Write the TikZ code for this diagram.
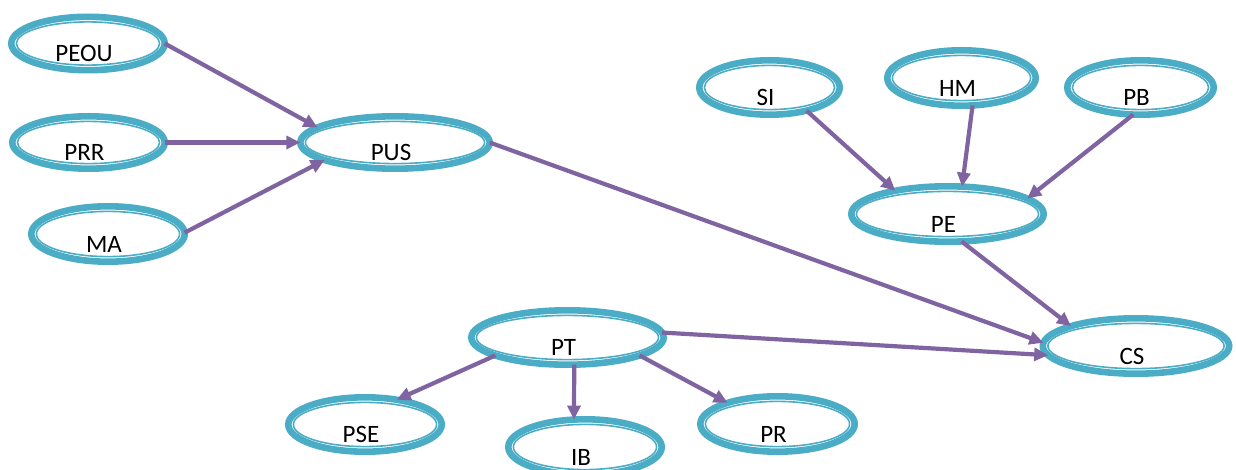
\documentclass[tikz,border=0pt]{standalone}
\usepackage{fontspec}
\setmainfont{Carlito}
\usetikzlibrary{shapes.geometric,arrows.meta}
\definecolor{ringc}{HTML}{4BACC6}
\definecolor{arrc}{HTML}{8064A2}
\tikzset{
  ring/.style={ellipse, draw=ringc, line width=6.6pt, inner sep=0pt, outer sep=0pt},
  ringin/.style={draw=ringc, line width=1.6pt},
  lbl/.style={font=\fontsize{25}{30}\selectfont, inner sep=0pt, text=black},
  conn/.style={draw=arrc, line width=4.2pt, -{Triangle[length=14pt,width=13pt]}}
}
% name, x, y, outer width, outer height, text
\newcommand\ringnode[6]{%
  \node[ring, minimum width=#4pt-6.6pt, minimum height=#5pt-6.6pt] (#1) at (#2,#3) {};
  \draw[ringin] (#1.center) ellipse [x radius=#4pt/2-8.4pt, y radius=#5pt/2-8.4pt];
  \node[lbl] (#1-t) at ([xshift=-4pt,yshift=-10pt]#1.center) {#6};
}
\begin{document}
\begin{tikzpicture}[x=1pt,y=-1pt]
\useasboundingbox (0,0) rectangle (1236,470);
\clip (0,0) rectangle (1236,470);
\ringnode{PEOU}{88}{43.5}{160}{60}{PEOU}
\ringnode{PRR}{88.5}{142.5}{159}{59}{PRR}
\ringnode{MA}{108}{234}{160}{62}{MA}
\ringnode{PUS}{395}{142.5}{196}{59}{PUS}
\ringnode{SI}{769.5}{87.5}{147}{61}{SI}
\ringnode{HM}{961.5}{78}{155}{62}{HM}
\ringnode{PB}{1140.5}{87.5}{153}{61}{PB}
\ringnode{PE}{947.5}{214}{199}{62}{PE}
\ringnode{CS}{1136}{346}{193}{62}{CS}
\ringnode{PT}{567.5}{337.5}{199}{61}{PT}
\ringnode{PSE}{365}{424.5}{160}{61}{PSE}
\ringnode{IB}{585}{447}{160}{62}{IB}
\ringnode{PR}{777.5}{424}{161}{62}{PR}

\draw[conn] (PEOU.0) -- (PUS.169);
\draw[conn] (PRR.0) -- (PUS.180);
\draw[conn] (MA.1) -- (PUS.194);
\draw[conn] (PUS.0) -- (CS.178);
\draw[conn] (PT.3) -- (CS.186);
\draw[conn] (PE.297) -- (CS.163);
\draw[conn] (SI.-32) -- (PE.156);
\draw[conn] (HM.-68) -- (PE.62);
\draw[conn] (PB.255) -- (PE.11);
\draw[conn] (PT.194) -- (PSE.38);
\draw[conn] (PT.-76) -- (IB.112);
\draw[conn] (PT.-14) -- (PR.157);
\end{tikzpicture}
\end{document}
